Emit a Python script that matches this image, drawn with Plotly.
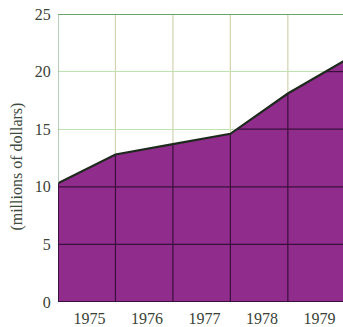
import numpy as np
import plotly.graph_objects as go

# Data
x_pos = [0, 1, 2, 3, 4, 5]
values = [10.3, 12.8, 13.7, 14.6, 18.1, 21.0]
year_labels = ["1975", "1976", "1977", "1978", "1979"]
y_ticks = [0, 5, 10, 15, 20, 25]
y_title = "(millions of dollars)"

PURPLE = "#902c8b"
DARK = "#3b0f3d"
LINE = "#1f2a1f"
FONT = "Liberation Serif"
TXT = "#3a4238"

fig = go.Figure()

fig.add_trace(go.Scatter(
    x=x_pos, y=values, mode="lines", fill="tozeroy",
    fillcolor=PURPLE, line=dict(color=PURPLE, width=0),
    hoverinfo="skip", showlegend=False))

# Dark gridlines over the filled area (derived from data)
gx, gy = [], []
for xi, v in zip(x_pos[1:-1], values[1:-1]):
    gx += [xi, xi, None]
    gy += [0, v, None]
for yt in y_ticks[1:-1]:
    if yt <= min(values):
        x0 = x_pos[0]
    elif yt >= max(values):
        continue
    else:
        x0 = float(np.interp(yt, values, x_pos))
    gx += [x0, x_pos[-1], None]
    gy += [yt, yt, None]
fig.add_trace(go.Scatter(
    x=gx, y=gy, mode="lines", line=dict(color=DARK, width=1.2),
    hoverinfo="skip", showlegend=False))

fig.add_trace(go.Scatter(
    x=x_pos, y=values, mode="lines", line=dict(color=LINE, width=2.2),
    hoverinfo="skip", showlegend=False))

fig.add_shape(type="line", xref="paper", yref="y", x0=0, x1=1, y0=25, y1=25,
              line=dict(color="#6aa46a", width=2))
fig.add_shape(type="line", xref="x", yref="y", x0=0, x1=0, y0=0, y1=values[0],
              line=dict(color=DARK, width=2), layer="above")
fig.add_shape(type="line", xref="x", yref="y", x0=0, x1=0, y0=values[0], y1=25,
              line=dict(color="#8aaa8a", width=1.2), layer="above")
fig.add_shape(type="line", xref="paper", yref="y", x0=0, x1=1, y0=0, y1=0,
              line=dict(color=DARK, width=2), layer="above")

fig.update_layout(
    width=343, height=327,
    margin=dict(l=58, r=0, t=14, b=25, autoexpand=False),
    paper_bgcolor="white", plot_bgcolor="white",
    font=dict(family=FONT, size=16, color=TXT),
    xaxis=dict(
        range=[0, 4.96], showgrid=False, zeroline=False, showline=False,
        automargin=False,
        tickmode="array",
        tickvals=[i + 0.55 for i in range(len(year_labels))],
        ticktext=year_labels, ticks="outside", ticklen=2,
        tickcolor="rgba(0,0,0,0)",
        tickfont=dict(family=FONT, size=16, color=TXT),
        fixedrange=True,
    ),
    yaxis=dict(
        range=[0, 25], tickvals=y_ticks, ticks="outside", ticklen=3,
        tickcolor="rgba(0,0,0,0)", showline=False, zeroline=False,
        automargin=False,
        showgrid=True, gridcolor="#bfe3b0", gridwidth=1.2,
        tickfont=dict(family=FONT, size=16, color=TXT),
        fixedrange=True,
    ),
    annotations=[dict(
        text=y_title, xref="paper", yref="paper", x=-0.144, y=0.47,
        xanchor="center", yanchor="middle", textangle=-90, showarrow=False,
        font=dict(family=FONT, size=16, color="#3f4a3f"),
    )],
)

for xi in x_pos[1:-1]:
    fig.add_shape(type="line", xref="x", yref="y", x0=xi, x1=xi, y0=0, y1=25,
                  line=dict(color="#d3d3b2", width=1.2), layer="below")

fig.write_html(
    "out.html",
    config={"displayModeBar": False},
    post_script="document.body.style.margin='0';document.body.style.padding='0';"
                "document.body.style.overflow='hidden';",
)
